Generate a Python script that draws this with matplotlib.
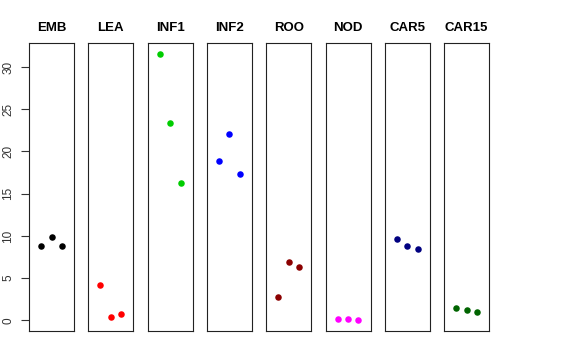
import numpy as np
import matplotlib.pyplot as plt

plt.rcParams['font.family'] = ['Liberation Sans', 'DejaVu Sans']

samples = ["EMB", "LEA", "INF1", "INF2", "ROO", "NOD", "CAR5", "CAR15"]
colors = ["black", "red", "#00CD00", "blue", "#8B0000", "magenta", "#000080", "#006400"]
emb = [8.8, 9.87, 8.85]
lea = [4.18, 0.39, 0.75]
inf1 = [31.54, 23.37, 16.31]
inf2 = [18.87, 22.03, 17.29]
roo = [2.76, 6.9, 6.31]
nod = [0.12, 0.16, 0.04]
car5 = [9.67, 8.85, 8.41]
car15 = [1.42, 1.18, 1.03]
values = [emb, lea, inf1, inf2, roo, nod, car5, car15]
reps = [1, 2, 3]

fig = plt.figure(figsize=(5.76, 3.6), dpi=100)
W, H = 576, 360
ymax = max(max(v) for v in values)
ylim = (-0.04 * ymax, ymax * 1.04)

for i, (name, col, vals) in enumerate(zip(samples, colors, values)):
    left = 29 + i * 59.3
    ax = fig.add_axes([left / W, 1 - 331 / H, 45 / W, (331 - 43.3) / H])
    ax.scatter(reps, vals, color=col, s=22, zorder=3, linewidths=0)
    ax.set_xlim(-0.16, 4.16)
    ax.set_ylim(*ylim)
    ax.set_xticks([])
    ax.set_title(name, fontsize=9.5, fontweight='bold', pad=9)
    for sp in ax.spines.values():
        sp.set_linewidth(0.8)
        sp.set_color('#222222')
    if i == 0:
        ax.set_yticks([0, 5, 10, 15, 20, 25, 30])
        ax.tick_params(axis='y', length=5.5, width=0.8, labelsize=8.5, pad=5,
                       colors='#333333')
        for lbl in ax.get_yticklabels():
            lbl.set_rotation(90)
            lbl.set_va('center')
    else:
        ax.set_yticks([])

fig.savefig("out.png", dpi=100)
